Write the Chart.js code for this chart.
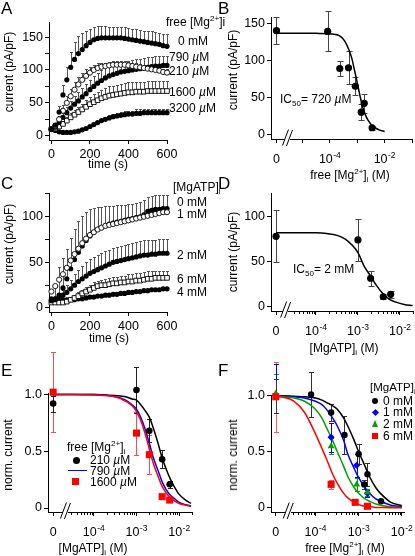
<!DOCTYPE html>
<html>
<head>
<meta charset="utf-8">
<script src="https://cdn.jsdelivr.net/npm/chart.js@4.4.0/dist/chart.umd.min.js"></script>
<style>
  html, body { margin: 0; padding: 0; background: #fff; }
  #fig { position: relative; width: 415px; height: 556px; overflow: hidden;
         font-family: 'Liberation Sans', Arial, sans-serif; color: #000; }
  canvas { position: absolute; }
  .t { position: absolute; white-space: nowrap; font-size: 12px; line-height: 1; }
  .mid { transform: translateY(-50%); }
  .ctr { transform: translate(-50%, -50%); }
  .rot { transform: translate(-50%, -50%) rotate(-90deg); }
  .letter { font-size: 17px; }
  sup, sub { font-size: 8px; line-height: 0; position: relative; vertical-align: baseline; }
  sup { top: -5px; }
  sub { top: 3px; }
  .sym { display: inline-block; position: absolute; }
</style>
</head>
<body>
<div id="fig">
  <canvas id="chartA"></canvas>
  <canvas id="chartB"></canvas>
  <canvas id="chartC"></canvas>
  <canvas id="chartD"></canvas>
  <canvas id="chartE"></canvas>
  <canvas id="chartF"></canvas>

  <!-- panel A -->
  <div class="t letter" style="left:1px;top:0px">A</div>
  <div class="t rot" style="left:9px;top:72px">current (pA/pF)</div>
  <div class="t ctr" style="left:108px;top:164px">time (s)</div>
  <div class="t mid" style="left:166px;top:22px">free [Mg<sup>2+</sup>]i</div>
  <div class="t mid" style="left:178px;top:41px">0 mM</div>
  <div class="t mid" style="left:169px;top:57px">790 <i>µ</i>M</div>
  <div class="t mid" style="left:169px;top:71px">210 <i>µ</i>M</div>
  <div class="t mid" style="left:169px;top:92px">1600 <i>µ</i>M</div>
  <div class="t mid" style="left:169px;top:108px">3200 <i>µ</i>M</div>

  <!-- panel B -->
  <div class="t letter" style="left:218px;top:0px">B</div>
  <div class="t rot" style="left:233px;top:70px">current (pA/pF)</div>
  <div class="t ctr" style="left:350px;top:175px">free [Mg<sup>2+</sup>]<sub>i</sub> (M)</div>
  <div class="t mid" style="left:280px;top:99px">IC<sub>50</sub>= 720 <i>µ</i>M</div>

  <!-- panel C -->
  <div class="t letter" style="left:1px;top:175px">C</div>
  <div class="t rot" style="left:9px;top:244px">current (pA/pF)</div>
  <div class="t ctr" style="left:109px;top:338px">time (s)</div>
  <div class="t mid" style="left:173px;top:187px">[MgATP]<sub>i</sub></div>
  <div class="t mid" style="left:177px;top:202px">0 mM</div>
  <div class="t mid" style="left:177px;top:214px">1 mM</div>
  <div class="t mid" style="left:177px;top:255px">2 mM</div>
  <div class="t mid" style="left:177px;top:279px">6 mM</div>
  <div class="t mid" style="left:177px;top:292px">4 mM</div>

  <!-- panel D -->
  <div class="t letter" style="left:218px;top:175px">D</div>
  <div class="t rot" style="left:233px;top:252px">current (pA/pF)</div>
  <div class="t ctr" style="left:344px;top:348px">[MgATP]<sub>i</sub> (M)</div>
  <div class="t mid" style="left:293px;top:269px">IC<sub>50</sub>= 2 mM</div>

  <!-- panel E -->
  <div class="t letter" style="left:1px;top:362px">E</div>
  <div class="t rot" style="left:8px;top:455px">norm. current</div>
  <div class="t ctr" style="left:93px;top:548px">[MgATP]<sub>i</sub> (M)</div>
  <div class="t mid" style="left:67px;top:447px">free [Mg<sup>2+</sup>]<sub>i</sub></div>
  <span class="sym" style="left:73px;top:457px;width:7px;height:7px;border-radius:50%;background:#000"></span>
  <div class="t mid" style="left:90px;top:460px">210 <i>µ</i>M</div>
  <span class="sym" style="left:68px;top:470px;width:19px;height:0;border-top:1.5px solid #0000ff"></span>
  <div class="t mid" style="left:90px;top:471px">790 <i>µ</i>M</div>
  <span class="sym" style="left:72px;top:478px;width:7px;height:7px;background:#ff0000"></span>
  <div class="t mid" style="left:90px;top:482px">1600 <i>µ</i>M</div>

  <!-- panel F -->
  <div class="t letter" style="left:218px;top:362px">F</div>
  <div class="t rot" style="left:233px;top:455px">norm. current</div>
  <div class="t ctr" style="left:345px;top:548px">free [Mg<sup>2+</sup>]<sub>i</sub> (M)</div>
  <div class="t mid" style="left:370px;top:388px;font-size:11.5px">[MgATP]<sub>i</sub></div>
  <span class="sym" style="left:372px;top:398px;width:6px;height:6px;border-radius:50%;background:#000"></span>
  <div class="t mid" style="left:383px;top:401px">0 mM</div>
  <span class="sym" style="left:373px;top:410px;width:5px;height:5px;background:#0000ff;transform:rotate(45deg)"></span>
  <div class="t mid" style="left:383px;top:412px">1 mM</div>
  <span class="sym" style="left:372px;top:420px;width:0;height:0;border-left:3.5px solid transparent;border-right:3.5px solid transparent;border-bottom:7px solid #00a000"></span>
  <div class="t mid" style="left:383px;top:424px">2 mM</div>
  <span class="sym" style="left:372px;top:433px;width:6px;height:6px;background:#ff0000"></span>
  <div class="t mid" style="left:383px;top:436px">6 mM</div>
</div>

<script>
// ---------- data ----------

// Time points for the current traces in A and C (s)
const timeS = [0, 20, 40, 60, 80, 100, 120, 140, 160, 180, 200, 220, 240, 260, 280, 300,
               320, 340, 360, 380, 400, 420, 440, 460, 480, 500, 520, 540, 560, 580, 600];

// Panel A: current (pA/pF) at different free [Mg2+]i
const aMg0     = [10, 16, 36, 62, 85, 104, 116, 125, 131, 137, 142, 146, 148, 149, 149, 149,
                  149, 149, 149, 148, 147, 146, 145, 144, 143, 142, 141, 140, 139, 137, 136];
const aMg0Err  = [2, 4, 9, 15, 20, 24, 26, 26, 25, 23, 21, 20, 19, 18, 18, 17,
                  17, 17, 17, 17, 17, 17, 17, 17, 17, 18, 18, 18, 18, 18, 18];
const aMg790   = [10, 13, 20, 28, 35, 42, 48, 53, 59, 64, 70, 75, 80, 84, 88, 91,
                  93, 95, 97, 98, 99, 100, 101, 102, 103, 104, 105, 106, 106, 107, 107];
const aMg790Err = [2, 3, 5, 7, 9, 11, 12, 13, 14, 15, 15, 16, 16, 16, 16, 16,
                   16, 16, 16, 15, 15, 15, 15, 15, 15, 15, 15, 15, 15, 15, 15];
const aMg210   = [10, 15, 25, 38, 50, 60, 70, 78, 85, 91, 96, 100, 103, 105, 106, 107,
                  108, 108, 108, 108, 107, 106, 105, 104, 103, 102, 101, 100, 99, 97, 96];
const aMg210Err = [2, 3, 5, 8, 10, 11, 12, 12, 11, 10, 9, 8, 7, 6, 5, 5,
                   5, 5, 5, 5, 5, 5, 5, 5, 5, 5, 5, 5, 5, 5, 5];
const aMg1600  = [10, 11, 14, 18, 23, 28, 32, 36, 40, 44, 48, 51, 54, 57, 59, 61,
                  62, 63, 64, 65, 66, 66, 67, 67, 67, 68, 68, 68, 68, 68, 68];
const aMg1600Err = [1, 2, 3, 4, 5, 6, 7, 8, 9, 10, 11, 12, 12, 13, 13, 14,
                    14, 14, 14, 15, 15, 15, 15, 15, 15, 15, 15, 15, 15, 15, 15];
const aMg3200  = [10, 8, 6, 5, 5, 5, 6, 7, 9, 11, 14, 17, 20, 23, 25, 27,
                  29, 30, 31, 32, 33, 33, 34, 34, 35, 35, 35, 35, 35, 35, 35];
const aMg3200Err = [1, 1, 1, 1, 1, 1, 1, 1, 2, 2, 2, 3, 3, 3, 4, 4,
                    4, 5, 5, 5, 5, 5, 6, 6, 6, 6, 6, 6, 6, 6, 6];

// Panel C: current (pA/pF) at different [MgATP]i
const cAtp0    = [8, 9, 14, 22, 32, 43, 53, 61, 68, 74, 79, 83, 86, 88, 90, 92,
                  93, 94, 95, 96, 97, 98, 99, 100, 102, 106, 107, 108, 108, 109, 109];
const cAtp0Err = [4, 16, 31, 33, 33, 34, 34, 34, 33, 31, 29, 27, 25, 23, 22, 20,
                  19, 19, 18, 17, 17, 16, 16, 16, 16, 16, 16, 16, 16, 15, 15];
const cAtp1    = [18, 24, 31, 37, 44, 52, 59, 65, 71, 76, 80, 83, 86, 88, 90, 91,
                  92, 93, 94, 95, 96, 97, 98, 99, 100, 101, 102, 103, 104, 105, 105];
const cAtp2    = [10, 10, 11, 14, 17, 21, 25, 29, 32, 35, 38, 40, 42, 44, 46, 48,
                  50, 51, 52, 53, 54, 55, 56, 57, 58, 58, 59, 59, 60, 60, 60];
const cAtp2Err = [2, 3, 4, 6, 8, 10, 12, 13, 14, 15, 16, 16, 16, 16, 16, 16,
                  16, 16, 16, 16, 16, 16, 16, 16, 16, 16, 16, 16, 16, 16, 16];
const cAtp6    = [6, 6, 6, 6, 7, 9, 11, 13, 16, 18, 20, 22, 24, 25, 25, 26,
                  27, 27, 28, 28, 29, 29, 30, 30, 31, 32, 32, 33, 33, 33, 33];
const cAtp6Err = [1, 1, 1, 2, 2, 3, 3, 4, 4, 5, 5, 6, 6, 6, 7, 7,
                  7, 7, 7, 7, 8, 8, 8, 8, 8, 8, 8, 8, 8, 8, 8];
const cAtp4    = [9, 9, 9, 9, 9, 9, 9, 10, 10, 11, 12, 12, 13, 13, 14, 14,
                  15, 15, 16, 16, 17, 17, 18, 18, 19, 19, 20, 20, 20, 21, 21];
const cAtp4Err = [1, 1, 1, 1, 1, 1, 1, 1, 1, 2, 2, 2, 2, 2, 2, 2,
                  2, 2, 2, 2, 2, 2, 2, 2, 2, 2, 2, 2, 2, 2, 2];

// Panel B: peak current vs free [Mg2+]i (M)
const bConc    = [0, 8.3e-5, 2.3e-4, 4.8e-4, 8.5e-4, 1.4e-3, 1.8e-3, 3.5e-3];
const bCurrent = [140, 139, 89, 90, 65, 30, 42, 9];
const bErr     = [18, 27, 10, 22, 12, 11, 13, 3];
const bFitConc = [0, 1e-5, 3.2e-5, 1e-4, 1.8e-4, 2.5e-4, 3.5e-4, 5e-4, 6.3e-4, 7.9e-4,
                  1e-3, 1.26e-3, 1.58e-3, 2e-3, 2.5e-3, 3.5e-3, 5e-3, 7e-3, 1e-2];
const bFit     = [136.5, 136.5, 136.4, 136, 134.5, 132, 126, 114, 103, 87,
                  70, 52, 37, 26, 19, 12, 8, 5.5, 4];

// Panel D: peak current vs [MgATP]i (M)
const dConc    = [0, 1e-3, 2e-3, 4e-3, 6e-3];
const dCurrent = [78, 74, 31.5, 11, 13.7];
const dErr     = [29, 23, 8.5, 3, 4];
const dFitConc = [0, 3.2e-5, 1e-4, 1.8e-4, 3.2e-4, 5e-4, 7e-4, 1e-3, 1.4e-3, 2e-3,
                  2.8e-3, 4e-3, 5.6e-3, 8e-3, 1.26e-2, 2e-2];
const dFit     = [82, 82, 81.8, 81, 79, 75, 69, 60, 45, 34, 23, 14, 8, 5, 2.5, 1.2];

// Panel E: normalised current vs [MgATP]i at three free [Mg2+]i
const eConc     = [0, 1e-3, 2e-3, 4e-3, 6e-3];
const eMg210    = [0.92, 1.04, 0.68, 0.43, 0.21];
const eMg210Err = [0.07, 0.2, 0.1, 0.08, 0.03];
const eMg1600   = [1.02, 0.66, 0.47, 0.10, 0.07];
const eMg1600Err = [0.35, 0.19, 0.17, 0.02, 0.01];
const eFitConc  = [0, 3.2e-5, 1e-4, 3.2e-4, 5.6e-4, 7.9e-4, 1e-3, 1.26e-3, 1.58e-3, 2e-3,
                   2.5e-3, 3.2e-3, 4e-3, 5e-3, 6.3e-3, 7.9e-3, 1e-2, 1.41e-2, 1.9e-2];
const eFit210   = [1, 1, 1, 0.99, 0.98, 0.96, 0.95, 0.91, 0.86, 0.8,
                   0.7, 0.57, 0.44, 0.34, 0.25, 0.18, 0.12, 0.07, 0.04];
const eFit790   = [1, 1, 1, 0.98, 0.95, 0.91, 0.87, 0.8, 0.7, 0.57,
                   0.44, 0.33, 0.23, 0.16, 0.11, 0.08, 0.05, 0.03, 0.02];
const eFit1600  = [1, 1, 0.995, 0.98, 0.94, 0.9, 0.85, 0.77, 0.66, 0.52,
                   0.39, 0.28, 0.19, 0.13, 0.09, 0.06, 0.04, 0.025, 0.015];

// Panel F: normalised current vs free [Mg2+]i at four [MgATP]i
const fConc0   = [0, 7.9e-5, 2.3e-4, 4.7e-4, 1.0e-3, 1.35e-3, 1.6e-3, 3.3e-3];
const fAtp0    = [1.0, 1.01, 0.85, 0.65, 0.48, 0.21, 0.30, 0.06];
const fAtp0Err = [0.15, 0.2, 0.08, 0.17, 0.09, 0.04, 0.1, 0.01];
const fConc1   = [0, 2.3e-4, 9e-4, 1.6e-3];
const fAtp1    = [1.13, 0.63, 0.38, 0.13];
const fAtp1Err = [0.15, 0.13, 0.1, 0.03];
const fConc2   = [0, 2.3e-4, 9e-4, 1.6e-3];
const fAtp2    = [1.02, 0.55, 0.21, 0.14];
const fAtp2Err = [0.17, 0.07, 0.06, 0.03];
const fConc6   = [0, 2.3e-4, 8.3e-4, 1.6e-3];
const fAtp6    = [0.99, 0.21, 0.05, 0.015];
const fAtp6Err = [0.31, 0.04, 0.01, 0.01];
const fFitConc = [0, 1.8e-5, 3.2e-5, 5.6e-5, 1e-4, 1.41e-4, 1.78e-4, 2.5e-4, 3.2e-4, 4.5e-4,
                  5.6e-4, 7.9e-4, 1e-3, 1.41e-3, 1.78e-3, 2.5e-3, 3.2e-3, 5.6e-3, 1e-2];
const fFit0    = [1, 1, 0.995, 0.99, 0.98, 0.96, 0.94, 0.91, 0.88, 0.8,
                  0.73, 0.6, 0.5, 0.37, 0.28, 0.18, 0.13, 0.05, 0.02];
const fFit1    = [1, 0.995, 0.99, 0.98, 0.95, 0.92, 0.88, 0.8, 0.73, 0.6,
                  0.48, 0.35, 0.27, 0.18, 0.13, 0.08, 0.06, 0.025, 0.01];
const fFit2    = [1, 0.99, 0.98, 0.95, 0.88, 0.8, 0.72, 0.6, 0.5, 0.37,
                  0.28, 0.18, 0.13, 0.08, 0.06, 0.035, 0.025, 0.01, 0.005];
const fFit6    = [0.995, 0.985, 0.95, 0.85, 0.66, 0.53, 0.44, 0.3, 0.22, 0.13,
                  0.09, 0.05, 0.03, 0.015, 0.01, 0.005, 0.004, 0.002, 0.001];

// Tick values
const timeTicks = [0, 100, 200, 300, 400, 500, 600];
const timeLabels = [0, 200, 400, 600];
const aTicks = [0, 25, 50, 75, 100, 125, 150];
const cTicks = [0, 25, 50, 75, 100, 125];
const bTicks = [0, 50, 100, 150];
const dTicks = [0, 50, 100];
const normTicks = [0, 0.5, 1];

// ---------- helpers ----------
const FONT = "'Liberation Sans', Arial, sans-serif";
Chart.defaults.font.family = FONT;
Chart.defaults.font.size = 12.5;
Chart.defaults.color = '#000';

// zero concentration is drawn at a fixed spot left of the axis break
const points = (xs, ys, zeroAt) => xs.map((x, i) => ({ x: (x === 0 && zeroAt) ? zeroAt : x, y: ys[i] }));

// minor ticks k*10^n on a log axis, only inside [lo, hi]
const logMinors = (lo, hi) => {
    const out = [];
    for (let n = -6; n <= -1; n++) {
        for (let k = 2; k <= 9; k++) {
            const v = k * Math.pow(10, n);
            if (v > lo && v < hi) out.push(v);
        }
    }
    return out;
};

// vertical error bars, drawn under the markers
const errorBars = {
    id: 'errorBars',
    beforeDatasetsDraw(chart) {
        const ctx = chart.ctx;
        const yScale = chart.scales.y;
        chart.data.datasets.forEach((ds, i) => {
            if (!ds.errors) return;
            const meta = chart.getDatasetMeta(i);
            const cap = ds.capHalf ?? 3;
            ctx.save();
            ctx.strokeStyle = ds.errorColor || '#000';
            ctx.lineWidth = 1;
            ctx.beginPath();
            meta.data.forEach((pt, j) => {
                const e = ds.errors[j];
                if (!e) return;
                const v = ds.data[j].y;
                const x = Math.round(pt.x) + 0.5;
                const top = Math.round(yScale.getPixelForValue(v + e)) + 0.5;
                const bottom = ds.upOnly ? pt.y : Math.round(yScale.getPixelForValue(v - e)) + 0.5;
                ctx.moveTo(x, bottom);
                ctx.lineTo(x, top);
                ctx.moveTo(x - cap, top);
                ctx.lineTo(x + cap, top);
                if (!ds.upOnly) {
                    ctx.moveTo(x - cap, bottom);
                    ctx.lineTo(x + cap, bottom);
                }
            });
            ctx.stroke();
            ctx.restore();
        });
    }
};

// minor ticks, axis break and "10^n" labels for the concentration axes
function logAxisDecor(cfg) {
    return {
        id: 'logAxisDecor',
        afterDraw(chart) {
            const ctx = chart.ctx;
            const xs = chart.scales.x;
            const y0 = Math.round(chart.chartArea.bottom) + 0.5;
            ctx.save();
            ctx.strokeStyle = '#000';
            ctx.lineWidth = 1;
            ctx.beginPath();
            cfg.minor.forEach(v => {
                const px = Math.round(xs.getPixelForValue(v)) + 0.5;
                ctx.moveTo(px, y0);
                ctx.lineTo(px, y0 + 2.5);
            });
            ctx.stroke();

            // axis break
            const bx = xs.getPixelForValue(cfg.breakAt);
            ctx.clearRect(bx - 3, y0 - 1.5, 5, 3);
            ctx.beginPath();
            ctx.moveTo(bx - 5.5, y0 + 6);
            ctx.lineTo(bx + 0.5, y0 - 10);
            ctx.moveTo(bx - 1.5, y0 + 6.5);
            ctx.lineTo(bx + 4.5, y0 - 9.5);
            ctx.stroke();

            // tick labels with superscript exponents
            ctx.fillStyle = '#000';
            ctx.textAlign = 'left';
            ctx.textBaseline = 'alphabetic';
            const base = y0 + 23;
            cfg.labels.forEach(l => {
                const px = xs.getPixelForValue(l.value);
                ctx.font = `12.5px ${FONT}`;
                const w1 = ctx.measureText(l.text).width;
                let w2 = 0;
                if (l.exp) {
                    ctx.font = `8.5px ${FONT}`;
                    w2 = ctx.measureText(l.exp).width + 0.5;
                }
                const x0 = px - (w1 + w2) / 2;
                ctx.font = `12.5px ${FONT}`;
                ctx.fillText(l.text, x0, base);
                if (l.exp) {
                    ctx.font = `8.5px ${FONT}`;
                    ctx.fillText(l.exp, x0 + w1 + 0.5, base - 5);
                }
            });
            ctx.restore();
        }
    };
}

const axisLook = () => ({
    border: { display: true, color: '#000', width: 1 },
    grid: { drawOnChartArea: false, drawTicks: true, tickLength: 4, tickColor: '#000', tickWidth: 1 }
});

const fixedTicks = (values) => (scale) => { scale.ticks = values.map(v => ({ value: v })); };

// builds one panel; box = canvas placement, area = plot area in page pixels
function makePanel(id, box, area, datasets, xOpts, yOpts, extraPlugins) {
    const canvas = document.getElementById(id);
    canvas.width = box.w;
    canvas.height = box.h;
    canvas.style.left = box.x + 'px';
    canvas.style.top = box.y + 'px';

    return new Chart(canvas, {
        type: 'scatter',
        data: { datasets },
        options: {
            responsive: false,
            animation: false,
            events: [],
            layout: {
                autoPadding: false,
                padding: { left: 0, bottom: 0, top: area.top - box.y, right: box.x + box.w - area.right }
            },
            plugins: { legend: { display: false }, tooltip: { enabled: false } },
            scales: {
                x: { ...axisLook(), ...xOpts, afterFit: s => { s.height = box.y + box.h - area.bottom; } },
                y: { ...axisLook(), ...yOpts, afterFit: s => { s.width = area.left - box.x; } }
            }
        },
        plugins: [errorBars, ...(extraPlugins || [])]
    });
}

// dataset styles
const markers = (data, style) => Object.assign({
    data, showLine: false, clip: false,
    pointRadius: 2.6, pointStyle: 'circle',
    pointBackgroundColor: '#000', pointBorderColor: '#000', pointBorderWidth: 0
}, style);

const fitLine = (data, color) => ({
    data, showLine: true, clip: false, pointRadius: 0,
    borderColor: color, borderWidth: 1.5, fill: false,
    cubicInterpolationMode: 'monotone'
});

const openCircle = { pointRadius: 2.6, pointBackgroundColor: '#fff', pointBorderColor: '#000', pointBorderWidth: 0.9 };
const openSquare = { pointStyle: 'rect', pointRadius: 3.3, pointBackgroundColor: '#fff',
                     pointBorderColor: '#000', pointBorderWidth: 0.9 };
const traceErr = { upOnly: true, capHalf: 1.5, errorColor: '#555' };

const timeAxis = {
    type: 'linear', min: -12.5, max: 600,
    afterBuildTicks: fixedTicks(timeTicks),
    ticks: { padding: 3, maxRotation: 0, callback: v => timeLabels.includes(v) ? String(v) : '' }
};

const yLinear = (min, max, ticks, labelEvery, fmt) => ({
    type: 'linear', min, max,
    afterBuildTicks: fixedTicks(ticks),
    ticks: { padding: 2, callback: v => (Math.abs(v / labelEvery - Math.round(v / labelEvery)) < 1e-9) ? fmt(v) : '' }
});

const logAxis = (min, max, majors) => ({
    type: 'logarithmic', min, max,
    afterBuildTicks: fixedTicks(majors),
    ticks: { display: false }
});

const int = v => String(v);
const norm = v => v === 0 ? '0' : v.toFixed(1);

// ---------- panel A ----------
makePanel('chartA', { x: 0, y: 0, w: 205, h: 178 }, { left: 49, right: 167, top: 22, bottom: 140 }, [
    markers(points(timeS, aMg0), { errors: aMg0Err, ...traceErr }),
    markers(points(timeS, aMg210), { errors: aMg210Err, ...traceErr, ...openCircle }),
    markers(points(timeS, aMg790), { errors: aMg790Err, ...traceErr }),
    markers(points(timeS, aMg1600), { errors: aMg1600Err, ...traceErr, ...openSquare }),
    markers(points(timeS, aMg3200), { errors: aMg3200Err, ...traceErr })
], timeAxis, yLinear(-6.5, 173, aTicks, 50, int));

// ---------- panel C ----------
makePanel('chartC', { x: 0, y: 178, w: 205, h: 178 }, { left: 49, right: 167, top: 193, bottom: 312 }, [
    markers(points(timeS, cAtp1), { ...openCircle }),
    markers(points(timeS, cAtp0), { errors: cAtp0Err, ...traceErr }),
    markers(points(timeS, cAtp2), { errors: cAtp2Err, ...traceErr }),
    markers(points(timeS, cAtp6), { errors: cAtp6Err, ...traceErr, ...openSquare }),
    markers(points(timeS, cAtp4), { errors: cAtp4Err, ...traceErr })
], timeAxis, yLinear(-4.4, 126, cTicks, 50, int));

// ---------- panel B ----------
const zeroB = Math.pow(10, -5.95);
makePanel('chartB', { x: 205, y: 0, w: 210, h: 178 }, { left: 271, right: 412, top: 17, bottom: 139 }, [
    markers(points(bConc, bCurrent, zeroB), { pointRadius: 3.6, errors: bErr, errorColor: '#444', capHalf: 3 }),
    fitLine(points(bFitConc, bFit, zeroB), '#000')
], logAxis(Math.pow(10, -6.15), 0.1, [zeroB, 1e-5, 1e-4, 1e-3, 1e-2, 1e-1]),
   yLinear(-6.2, 158.5, bTicks, 50, int),
   [logAxisDecor({
       minor: [], breakAt: Math.pow(10, -5.53),
       labels: [{ value: zeroB, text: '0' }, { value: 1e-4, text: '10', exp: '-4' }, { value: 1e-2, text: '10', exp: '-2' }]
   })]);

// ---------- panel D ----------
const zeroD = Math.pow(10, -4.95);
makePanel('chartD', { x: 205, y: 178, w: 210, h: 178 }, { left: 271, right: 413, top: 193, bottom: 311 }, [
    markers(points(dConc, dCurrent, zeroD), { pointRadius: 3.6, errors: dErr, errorColor: '#444', capHalf: 3 }),
    fitLine(points(dFitConc, dFit, zeroD), '#000')
], logAxis(Math.pow(10, -5.07), Math.pow(10, -1.69), [zeroD, 1e-4, 1e-3, 1e-2]),
   yLinear(-4.8, 126, dTicks, 50, int),
   [logAxisDecor({
       minor: logMinors(2.5e-5, Math.pow(10, -1.69)), breakAt: Math.pow(10, -4.71),
       labels: [{ value: zeroD, text: '0' }, { value: 1e-4, text: '10', exp: '-4' },
                { value: 1e-3, text: '10', exp: '-3' }, { value: 1e-2, text: '10', exp: '-2' }]
   })]);

// ---------- panel E ----------
const zeroE = Math.pow(10, -4.95);
makePanel('chartE', { x: 0, y: 340, w: 205, h: 216 }, { left: 48, right: 192, top: 393, bottom: 512 }, [
    markers(points(eConc, eMg1600, zeroE), { pointStyle: 'rect', pointRadius: 5, pointBackgroundColor: '#ff0000',
        errors: eMg1600Err, errorColor: '#ff4a4a', capHalf: 2.5 }),
    markers(points(eConc, eMg210, zeroE), { pointRadius: 3.3, errors: eMg210Err, errorColor: '#222', capHalf: 2.5 }),
    fitLine(points(eFitConc, eFit1600, zeroE), '#ff0000'),
    fitLine(points(eFitConc, eFit790, zeroE), '#0000ff'),
    fitLine(points(eFitConc, eFit210, zeroE), '#000')
], logAxis(Math.pow(10, -5.07), Math.pow(10, -1.7), [zeroE, 1e-4, 1e-3, 1e-2]),
   yLinear(-0.035, 1.013, normTicks, 0.5, norm),
   [logAxisDecor({
       minor: logMinors(2.5e-5, Math.pow(10, -1.69)), breakAt: Math.pow(10, -4.65),
       labels: [{ value: zeroE, text: '0' }, { value: 1e-4, text: '10', exp: '-4' },
                { value: 1e-3, text: '10', exp: '-3' }, { value: 1e-2, text: '10', exp: '-2' }]
   })]);

// ---------- panel F ----------
const zeroF = Math.pow(10, -4.92);
makePanel('chartF', { x: 205, y: 340, w: 210, h: 216 }, { left: 271, right: 404, top: 395, bottom: 512 }, [
    markers(points(fConc6, fAtp6, zeroF), { pointStyle: 'rect', pointRadius: 5, pointBackgroundColor: '#ff0000',
        errors: fAtp6Err, errorColor: '#ff5a5a', capHalf: 2.5 }),
    markers(points(fConc2, fAtp2, zeroF), { pointStyle: 'triangle', pointRadius: 4, pointBackgroundColor: '#00a000',
        errors: fAtp2Err, errorColor: '#00a000', capHalf: 2.5 }),
    markers(points(fConc1, fAtp1, zeroF), { pointStyle: 'rectRot', pointRadius: 3.6, pointBackgroundColor: '#0000ff',
        errors: fAtp1Err, errorColor: '#0000ff', capHalf: 2.5 }),
    markers(points(fConc0, fAtp0, zeroF), { pointRadius: 3.2, errors: fAtp0Err, errorColor: '#333', capHalf: 2.5 }),
    fitLine(points(fFitConc, fFit6, zeroF), '#ff0000'),
    fitLine(points(fFitConc, fFit2, zeroF), '#00a000'),
    fitLine(points(fFitConc, fFit1, zeroF), '#0000ff'),
    fitLine(points(fFitConc, fFit0, zeroF), '#000')
], logAxis(Math.pow(10, -5.03), Math.pow(10, -1.95), [zeroF, 1e-4, 1e-3, 1e-2]),
   yLinear(-0.036, 1.006, normTicks, 0.5, norm),
   [logAxisDecor({
       minor: logMinors(2.5e-5, Math.pow(10, -1.95)), breakAt: Math.pow(10, -4.62),
       labels: [{ value: zeroF, text: '0' }, { value: 1e-4, text: '10', exp: '-4' },
                { value: 1e-3, text: '10', exp: '-3' }, { value: 1e-2, text: '10', exp: '-2' }]
   })]);
</script>
</body>
</html>
